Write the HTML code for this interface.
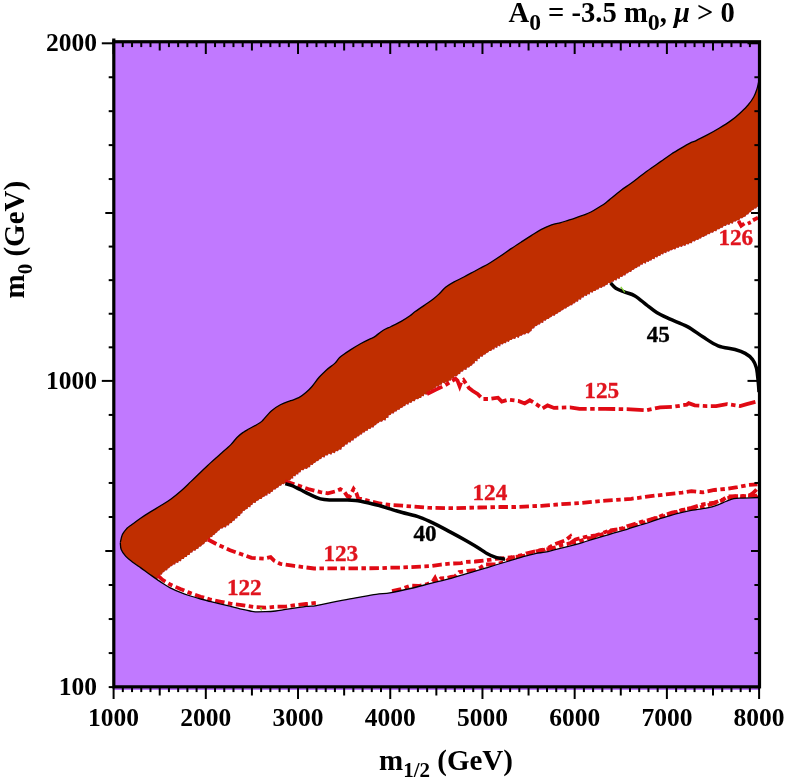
<!DOCTYPE html>
<html><head><meta charset="utf-8"><style>
html,body{margin:0;padding:0;background:#fff;}
svg{display:block;}
text{font-family:"Liberation Serif",serif;font-weight:bold;}
</style></head><body>
<svg style="will-change:transform" width="786" height="782" viewBox="0 0 786 782">
<rect x="0" y="0" width="786" height="782" fill="#fff"/>
<rect x="113.8" y="41.75" width="645.7" height="645.1" fill="#C179FF"/>
<path d="M759.3,207 L757.1,206.8 L756.2,208.4 L754.3,208.4 L753.5,210.1 L751.7,210.3 L751.0,212.1 L749.2,212.4 L748.4,214.2 L746.4,214.7 L745.5,216.5 L743.6,217.0 L742.2,218.3 L740.2,218.3 L739.2,220.4 L737.0,220.2 L735.7,221.6 L733.6,221.5 L732.7,223.8 L730.4,223.0 L729.2,224.9 L727.0,224.3 L725.8,226.1 L723.7,225.8 L722.6,227.8 L720.7,227.8 L719.3,229.2 L717.3,229.3 L716.3,231.3 L714.1,231.0 L713.0,232.8 L710.7,232.4 L709.6,234.2 L707.7,233.9 L706.6,235.5 L705.0,235.7 L703.8,237.0 L701.9,236.7 L701.0,238.6 L699.1,238.4 L698.2,240.1 L696.0,239.7 L694.8,241.4 L692.7,241.0 L691.7,243.2 L689.6,242.9 L688.4,244.6 L686.3,244.1 L685.2,246.1 L683.0,245.2 L681.8,246.9 L679.7,246.2 L678.4,247.9 L676.5,247.6 L675.2,249.4 L673.2,248.9 L671.9,250.2 L670.0,250.2 L669.0,251.8 L666.9,251.2 L666.1,253.2 L663.9,252.6 L663.1,254.5 L661.1,254.1 L660.2,256.1 L658.2,255.7 L657.2,257.5 L655.1,256.9 L654.5,259.3 L652.3,258.7 L651.4,260.5 L649.5,260.4 L648.5,262.0 L646.4,261.5 L645.7,263.7 L643.4,262.8 L642.5,264.7 L640.6,264.6 L639.8,266.5 L637.9,266.6 L636.8,268.1 L634.9,268.3 L633.8,269.7 L632.0,270.1 L631.1,271.9 L629.1,271.8 L628.0,273.3 L626.1,273.4 L625.3,275.4 L623.3,275.3 L622.2,276.9 L620.2,276.7 L619.5,278.9 L617.2,278.2 L616.5,280.5 L614.4,280.1 L613.4,281.8 L611.4,281.7 L610.6,283.7 L608.3,282.8 L607.5,284.7 L605.7,284.9 L604.6,286.4 L602.8,286.4 L601.6,288.1 L599.5,287.6 L598.4,289.4 L596.5,289.5 L595.4,291.0 L593.4,290.9 L592.5,292.7 L590.3,292.1 L589.7,294.4 L587.6,294.0 L586.8,295.9 L584.5,295.6 L583.6,297.4 L581.5,297.4 L581.0,299.8 L578.6,299.3 L578.0,301.7 L575.8,301.6 L574.9,303.3 L573.0,303.5 L572.1,305.2 L570.1,305.3 L568.9,306.6 L567.2,306.9 L566.1,308.4 L564.2,308.6 L563.1,310.1 L561.4,310.5 L560.2,311.9 L558.5,312.2 L557.4,313.7 L555.6,314.0 L554.7,315.8 L552.4,315.4 L551.5,317.1 L549.7,317.4 L548.7,319.0 L546.7,319.1 L545.7,320.7 L543.6,320.5 L543.1,323.0 L540.8,322.5 L539.9,324.4 L538.0,324.5 L536.8,325.9 L534.9,326.2 L534.2,328.2 L532.0,328.7 L531.5,330.9 L529.9,331.8 L528.7,333.6 L526.4,332.9 L525.1,334.5 L523.0,334.3 L521.7,335.8 L519.7,335.7 L518.6,337.9 L516.2,336.8 L515.1,339.0 L512.9,338.6 L511.6,340.1 L509.8,340.1 L508.8,341.9 L506.7,341.3 L505.9,343.3 L503.8,342.9 L502.7,344.4 L500.7,344.1 L500.1,346.4 L497.8,345.6 L497.1,347.9 L494.9,347.3 L494.2,349.5 L492.2,349.3 L491.2,350.9 L489.2,351.0 L488.1,352.5 L486.4,353.1 L485.3,354.6 L483.4,354.8 L482.6,356.8 L480.1,356.4 L479.8,358.7 L477.5,358.7 L477.5,361.3 L475.0,361.0 L474.7,363.2 L472.8,363.7 L472.0,365.4 L470.3,366.0 L469.1,367.6 L467.0,367.6 L466.3,369.9 L463.8,369.4 L463.0,371.6 L460.7,371.7 L460.1,374.1 L458.0,374.3 L457.0,376.3 L454.5,376.1 L454.0,378.6 L451.6,378.5 L450.7,380.8 L448.9,380.6 L447.8,382.3 L445.8,381.7 L444.7,383.5 L442.4,382.5 L441.6,384.7 L439.6,384.7 L438.8,386.9 L436.4,386.3 L435.5,388.2 L433.6,388.7 L432.4,390.2 L430.2,390.2 L429.7,392.7 L427.5,392.7 L426.6,394.7 L424.3,394.0 L423.8,396.3 L421.8,396.1 L421.1,397.9 L419.2,398.0 L418.1,399.3 L415.8,399.0 L414.7,401.3 L412.4,400.9 L411.3,403.0 L409.1,402.6 L408.3,404.7 L406.0,404.1 L405.2,406.0 L403.3,406.2 L402.3,407.8 L400.4,408.0 L399.5,409.8 L397.4,409.7 L396.5,411.4 L394.6,411.6 L393.7,413.5 L391.5,413.2 L390.7,414.9 L388.6,415.3 L388.4,417.7 L386.1,417.9 L385.6,420.4 L383.2,419.9 L382.0,421.8 L379.7,421.5 L378.7,423.1 L376.9,423.4 L376.0,425.1 L374.3,425.6 L373.5,427.4 L371.4,427.3 L370.4,429.0 L368.3,428.7 L367.6,430.8 L365.5,430.7 L364.6,432.5 L362.5,432.4 L361.9,434.5 L359.9,434.6 L359.0,436.3 L357.1,436.5 L356.2,438.2 L354.1,438.2 L353.5,440.4 L351.3,440.4 L350.6,442.6 L348.1,442.2 L347.4,444.4 L345.2,444.4 L344.4,446.4 L342.0,447.1 L341.2,449.8 L339.0,449.4 L337.9,451.3 L335.7,451.0 L334.8,453.2 L332.4,452.5 L331.2,454.7 L328.8,453.6 L327.5,455.5 L325.3,455.3 L324.6,457.5 L322.1,456.9 L321.2,458.9 L319.3,459.3 L318.2,460.9 L316.2,461.2 L315.3,462.7 L313.5,463.2 L312.7,465.0 L310.4,464.8 L310.1,467.2 L308.1,467.2 L306.9,469.0 L304.6,468.5 L303.4,470.2 L301.2,470.0 L300.6,472.3 L298.5,472.4 L298.2,474.4 L296.0,474.3 L295.5,476.2 L293.2,476.1 L293.2,478.5 L291.2,478.6 L290.1,480.4 L288.0,480.4 L287.0,482.4 L285.0,482.7 L284.0,484.2 L282.0,484.0 L281.1,485.7 L279.2,485.7 L278.4,487.5 L276.5,487.9 L275.5,489.5 L273.4,489.6 L272.7,491.7 L270.8,492.0 L270.0,493.9 L267.7,493.2 L267.3,495.6 L265.3,495.4 L264.3,496.8 L262.6,497.1 L261.6,499.0 L259.4,499.0 L258.3,500.6 L256.3,500.9 L255.5,503.1 L253.0,502.7 L252.5,504.7 L250.7,505.2 L250.3,507.2 L248.0,507.0 L247.6,509.1 L245.7,509.3 L244.7,510.8 L242.8,511.1 L242.3,513.2 L240.5,513.8 L240.0,515.9 L237.6,515.9 L237.3,518.2 L235.2,518.6 L234.7,520.6 L232.5,521.1 L231.9,523.1 L229.6,523.3 L228.8,525.4 L226.7,525.3 L225.9,527.5 L223.7,527.1 L222.5,528.6 L220.5,528.6 L219.5,530.3 L217.8,530.9 L217.0,532.5 L215.4,533.2 L214.6,534.7 L212.8,535.3 L212.2,537.0 L210.1,537.3 L209.7,539.3 L207.8,539.6 L207.2,541.5 L205.2,542.1 L204.1,543.9 L202.2,544.7 L201.0,546.5 L199.0,546.7 L198.3,548.8 L196.3,549.1 L195.4,550.8 L193.1,550.6 L192.3,552.6 L190.2,552.7 L189.6,554.9 L187.4,554.9 L186.8,557.1 L184.6,557.0 L183.8,559.0 L181.5,558.9 L181.0,561.3 L178.8,561.0 L178.1,563.0 L175.8,562.5 L175.1,564.6 L173.0,564.4 L172.1,566.1 L170.2,566.4 L169.3,567.9 L167.7,568.4 L167.1,570.3 L165.0,570.4 L164.2,572.0 L162.6,572.5 L162.0,574.4 L160.2,574.8 L156.9,579.4  C158.1,580.2 161.6,582.6 163.8,584.0 C166.0,585.4 167.4,586.4 170.2,587.8 C173.0,589.2 177.0,591.0 180.4,592.4 C183.8,593.8 187.1,594.9 190.5,596.0 C193.9,597.1 197.3,598.1 200.7,599.0 C204.1,599.9 207.5,600.8 210.9,601.6 C214.3,602.5 217.7,603.3 221.1,604.1 C224.5,604.9 228.0,605.8 231.2,606.6 C234.3,607.4 236.8,608.2 240.0,608.9 C243.2,609.6 247.6,610.5 250.2,611.0 C252.8,611.5 252.8,611.7 255.3,611.8 C257.8,611.9 262.0,611.8 265.4,611.7 C268.8,611.6 272.2,611.4 275.6,611.0 C279.0,610.6 282.4,609.9 285.8,609.4 C289.2,608.9 292.6,608.4 296.0,607.9 C299.4,607.4 303.0,606.8 306.2,606.4 C309.4,606.0 312.7,606.1 315.0,605.8 C317.3,605.5 316.6,605.5 320.0,604.8 C323.4,604.1 329.4,602.9 335.4,601.7 C341.3,600.6 348.9,599.1 355.7,597.9 C362.5,596.7 370.4,595.1 376.1,594.3 C381.8,593.4 384.3,593.8 390.0,592.8 C395.7,591.8 403.6,590.1 410.4,588.5 C417.2,586.9 423.9,585.1 430.7,583.4 C437.5,581.7 445.4,579.8 451.1,578.3 C456.8,576.8 461.0,575.4 465.0,574.2 C469.0,573.0 471.8,572.1 475.2,571.1 C478.6,570.1 482.0,569.1 485.4,568.1 C488.8,567.1 492.1,566.0 495.5,565.0 C498.9,564.0 502.3,563.0 505.7,562.0 C509.1,561.0 512.5,559.9 515.9,558.9 C519.3,557.9 522.7,556.8 526.1,555.9 C529.5,555.0 533.1,553.9 536.2,553.3 C539.4,552.7 541.8,552.8 545.0,552.2 C548.2,551.6 551.8,550.5 555.2,549.6 C558.6,548.8 562.0,548.0 565.4,547.1 C568.8,546.2 572.1,545.4 575.5,544.5 C578.9,543.6 582.3,542.5 585.7,541.5 C589.1,540.5 592.5,539.4 595.9,538.4 C599.3,537.4 602.7,536.4 606.1,535.4 C609.5,534.4 613.1,533.2 616.2,532.3 C619.4,531.4 622.7,530.7 625.0,530.0 C627.3,529.3 627.6,528.9 630.2,528.1 C632.8,527.3 637.0,526.0 640.4,525.0 C643.8,524.0 647.1,523.1 650.5,522.0 C653.9,520.9 657.3,519.5 660.7,518.4 C664.1,517.3 667.5,516.4 670.9,515.4 C674.3,514.4 677.7,513.4 681.1,512.6 C684.5,511.8 688.1,511.0 691.2,510.4 C694.4,509.8 696.1,509.9 700.0,509.2 C703.9,508.5 710.1,507.4 714.4,506.1 C718.7,504.8 722.6,502.8 725.8,501.5 C729.0,500.2 730.9,499.2 733.8,498.6 C736.7,498.0 738.8,498.3 743.0,498.1 C747.2,497.9 756.6,497.6 759.3,497.5 L759.3,497.5 Z" fill="#fff"/>
<path d="M120.3,542.6 C120.7,541.2 121.3,536.9 122.4,534.5 C123.5,532.1 125.6,529.8 127.0,528.2 C128.4,526.7 128.8,526.8 131.0,525.2 C133.2,523.6 137.0,520.7 140.2,518.5 C143.4,516.3 147.0,514.0 150.4,511.9 C153.8,509.8 157.1,507.9 160.5,505.8 C163.9,503.7 167.3,501.7 170.7,499.2 C174.1,496.7 177.5,494.0 180.9,491.0 C184.3,488.0 187.8,484.5 191.1,481.4 C194.4,478.3 197.4,475.3 200.6,472.2 C203.8,469.1 207.2,466.0 210.5,462.9 C213.8,459.8 217.3,456.9 220.7,453.8 C224.1,450.8 228.2,447.3 230.9,444.6 C233.6,441.9 235.0,439.5 237.0,437.5 C239.0,435.5 241.1,433.8 243.1,432.4 C245.1,430.9 246.4,430.4 249.2,428.8 C252.0,427.2 257.7,424.2 260.0,422.7 C262.3,421.2 261.2,422.0 263.1,420.0 C265.0,418.0 268.4,413.4 271.3,410.9 C274.2,408.4 277.2,406.5 280.4,404.8 C283.6,403.1 287.5,401.9 290.6,400.7 C293.7,399.5 296.2,399.0 298.8,397.7 C301.4,396.4 303.7,394.5 305.9,392.6 C308.1,390.7 309.8,389.1 312.0,386.5 C314.2,383.9 316.7,380.0 319.1,377.3 C321.5,374.6 323.6,372.6 326.2,370.2 C328.8,367.8 332.7,365.3 335.0,363.1 C337.3,360.9 337.6,359.2 340.2,357.0 C342.8,354.8 347.0,352.1 350.4,349.9 C353.8,347.7 357.1,345.7 360.5,343.8 C363.9,341.9 368.3,339.9 370.7,338.7 C373.1,337.5 372.8,338.0 374.8,336.6 C376.8,335.2 380.2,332.2 382.9,330.5 C385.6,328.8 388.1,328.0 391.1,326.5 C394.2,325.0 398.1,323.2 401.2,321.4 C404.3,319.6 407.7,317.4 410.0,315.8 C412.3,314.2 412.6,313.5 415.2,311.6 C417.8,309.7 422.4,306.6 425.5,304.5 C428.6,302.4 431.2,300.7 433.6,298.8 C436.0,296.9 437.8,295.1 439.8,293.2 C441.9,291.2 443.5,289.0 445.9,287.1 C448.3,285.2 451.0,283.6 454.1,281.9 C457.2,280.2 460.9,278.6 464.3,276.8 C467.7,275.0 472.0,272.6 474.6,271.2 C477.2,269.8 477.4,269.7 480.0,268.3 C482.6,266.9 486.8,264.8 490.2,262.7 C493.6,260.6 497.1,258.3 500.5,256.0 C503.9,253.7 507.3,251.2 510.7,248.9 C514.1,246.6 517.5,244.4 520.9,242.2 C524.3,240.0 527.8,237.7 531.2,235.6 C534.6,233.5 538.0,231.2 541.4,229.4 C544.8,227.6 548.5,225.9 551.6,224.8 C554.7,223.7 557.6,223.4 560.0,222.8 C562.4,222.2 563.6,221.8 566.0,221.0 C568.4,220.2 571.5,219.3 574.4,218.3 C577.3,217.3 580.5,216.2 583.3,215.2 C586.0,214.1 588.4,213.3 590.9,212.0 C593.4,210.7 596.0,209.1 598.5,207.5 C601.0,205.9 602.6,205.2 606.2,202.4 C609.8,199.6 616.2,194.0 620.2,190.9 C624.2,187.8 627.0,186.3 630.4,183.8 C633.8,181.3 637.1,178.7 640.5,176.1 C643.9,173.5 647.3,170.9 650.7,168.5 C654.1,166.1 657.5,163.8 660.9,161.4 C664.3,159.0 667.7,156.4 671.1,154.2 C674.5,152.0 678.1,149.9 681.2,148.1 C684.4,146.2 687.6,144.3 690.0,143.1 C692.4,141.9 692.9,142.1 695.7,140.8 C698.5,139.5 702.8,137.3 706.8,135.2 C710.8,133.1 715.5,130.4 719.5,128.0 C723.5,125.6 727.1,123.4 730.6,120.9 C734.1,118.4 737.3,115.6 740.2,112.9 C743.1,110.2 745.9,107.7 748.1,105.0 C750.4,102.3 752.2,99.7 753.7,97.0 C755.2,94.3 756.1,91.5 756.9,89.1 C757.7,86.7 758.1,84.4 758.5,82.7 C758.9,81.0 759.2,79.6 759.3,79.0 L759.3,207 L757.1,206.8 L756.2,208.4 L754.3,208.4 L753.5,210.1 L751.7,210.3 L751.0,212.1 L749.2,212.4 L748.4,214.2 L746.4,214.7 L745.5,216.5 L743.6,217.0 L742.2,218.3 L740.2,218.3 L739.2,220.4 L737.0,220.2 L735.7,221.6 L733.6,221.5 L732.7,223.8 L730.4,223.0 L729.2,224.9 L727.0,224.3 L725.8,226.1 L723.7,225.8 L722.6,227.8 L720.7,227.8 L719.3,229.2 L717.3,229.3 L716.3,231.3 L714.1,231.0 L713.0,232.8 L710.7,232.4 L709.6,234.2 L707.7,233.9 L706.6,235.5 L705.0,235.7 L703.8,237.0 L701.9,236.7 L701.0,238.6 L699.1,238.4 L698.2,240.1 L696.0,239.7 L694.8,241.4 L692.7,241.0 L691.7,243.2 L689.6,242.9 L688.4,244.6 L686.3,244.1 L685.2,246.1 L683.0,245.2 L681.8,246.9 L679.7,246.2 L678.4,247.9 L676.5,247.6 L675.2,249.4 L673.2,248.9 L671.9,250.2 L670.0,250.2 L669.0,251.8 L666.9,251.2 L666.1,253.2 L663.9,252.6 L663.1,254.5 L661.1,254.1 L660.2,256.1 L658.2,255.7 L657.2,257.5 L655.1,256.9 L654.5,259.3 L652.3,258.7 L651.4,260.5 L649.5,260.4 L648.5,262.0 L646.4,261.5 L645.7,263.7 L643.4,262.8 L642.5,264.7 L640.6,264.6 L639.8,266.5 L637.9,266.6 L636.8,268.1 L634.9,268.3 L633.8,269.7 L632.0,270.1 L631.1,271.9 L629.1,271.8 L628.0,273.3 L626.1,273.4 L625.3,275.4 L623.3,275.3 L622.2,276.9 L620.2,276.7 L619.5,278.9 L617.2,278.2 L616.5,280.5 L614.4,280.1 L613.4,281.8 L611.4,281.7 L610.6,283.7 L608.3,282.8 L607.5,284.7 L605.7,284.9 L604.6,286.4 L602.8,286.4 L601.6,288.1 L599.5,287.6 L598.4,289.4 L596.5,289.5 L595.4,291.0 L593.4,290.9 L592.5,292.7 L590.3,292.1 L589.7,294.4 L587.6,294.0 L586.8,295.9 L584.5,295.6 L583.6,297.4 L581.5,297.4 L581.0,299.8 L578.6,299.3 L578.0,301.7 L575.8,301.6 L574.9,303.3 L573.0,303.5 L572.1,305.2 L570.1,305.3 L568.9,306.6 L567.2,306.9 L566.1,308.4 L564.2,308.6 L563.1,310.1 L561.4,310.5 L560.2,311.9 L558.5,312.2 L557.4,313.7 L555.6,314.0 L554.7,315.8 L552.4,315.4 L551.5,317.1 L549.7,317.4 L548.7,319.0 L546.7,319.1 L545.7,320.7 L543.6,320.5 L543.1,323.0 L540.8,322.5 L539.9,324.4 L538.0,324.5 L536.8,325.9 L534.9,326.2 L534.2,328.2 L532.0,328.7 L531.5,330.9 L529.9,331.8 L528.7,333.6 L526.4,332.9 L525.1,334.5 L523.0,334.3 L521.7,335.8 L519.7,335.7 L518.6,337.9 L516.2,336.8 L515.1,339.0 L512.9,338.6 L511.6,340.1 L509.8,340.1 L508.8,341.9 L506.7,341.3 L505.9,343.3 L503.8,342.9 L502.7,344.4 L500.7,344.1 L500.1,346.4 L497.8,345.6 L497.1,347.9 L494.9,347.3 L494.2,349.5 L492.2,349.3 L491.2,350.9 L489.2,351.0 L488.1,352.5 L486.4,353.1 L485.3,354.6 L483.4,354.8 L482.6,356.8 L480.1,356.4 L479.8,358.7 L477.5,358.7 L477.5,361.3 L475.0,361.0 L474.7,363.2 L472.8,363.7 L472.0,365.4 L470.3,366.0 L469.1,367.6 L467.0,367.6 L466.3,369.9 L463.8,369.4 L463.0,371.6 L460.7,371.7 L460.1,374.1 L458.0,374.3 L457.0,376.3 L454.5,376.1 L454.0,378.6 L451.6,378.5 L450.7,380.8 L448.9,380.6 L447.8,382.3 L445.8,381.7 L444.7,383.5 L442.4,382.5 L441.6,384.7 L439.6,384.7 L438.8,386.9 L436.4,386.3 L435.5,388.2 L433.6,388.7 L432.4,390.2 L430.2,390.2 L429.7,392.7 L427.5,392.7 L426.6,394.7 L424.3,394.0 L423.8,396.3 L421.8,396.1 L421.1,397.9 L419.2,398.0 L418.1,399.3 L415.8,399.0 L414.7,401.3 L412.4,400.9 L411.3,403.0 L409.1,402.6 L408.3,404.7 L406.0,404.1 L405.2,406.0 L403.3,406.2 L402.3,407.8 L400.4,408.0 L399.5,409.8 L397.4,409.7 L396.5,411.4 L394.6,411.6 L393.7,413.5 L391.5,413.2 L390.7,414.9 L388.6,415.3 L388.4,417.7 L386.1,417.9 L385.6,420.4 L383.2,419.9 L382.0,421.8 L379.7,421.5 L378.7,423.1 L376.9,423.4 L376.0,425.1 L374.3,425.6 L373.5,427.4 L371.4,427.3 L370.4,429.0 L368.3,428.7 L367.6,430.8 L365.5,430.7 L364.6,432.5 L362.5,432.4 L361.9,434.5 L359.9,434.6 L359.0,436.3 L357.1,436.5 L356.2,438.2 L354.1,438.2 L353.5,440.4 L351.3,440.4 L350.6,442.6 L348.1,442.2 L347.4,444.4 L345.2,444.4 L344.4,446.4 L342.0,447.1 L341.2,449.8 L339.0,449.4 L337.9,451.3 L335.7,451.0 L334.8,453.2 L332.4,452.5 L331.2,454.7 L328.8,453.6 L327.5,455.5 L325.3,455.3 L324.6,457.5 L322.1,456.9 L321.2,458.9 L319.3,459.3 L318.2,460.9 L316.2,461.2 L315.3,462.7 L313.5,463.2 L312.7,465.0 L310.4,464.8 L310.1,467.2 L308.1,467.2 L306.9,469.0 L304.6,468.5 L303.4,470.2 L301.2,470.0 L300.6,472.3 L298.5,472.4 L298.2,474.4 L296.0,474.3 L295.5,476.2 L293.2,476.1 L293.2,478.5 L291.2,478.6 L290.1,480.4 L288.0,480.4 L287.0,482.4 L285.0,482.7 L284.0,484.2 L282.0,484.0 L281.1,485.7 L279.2,485.7 L278.4,487.5 L276.5,487.9 L275.5,489.5 L273.4,489.6 L272.7,491.7 L270.8,492.0 L270.0,493.9 L267.7,493.2 L267.3,495.6 L265.3,495.4 L264.3,496.8 L262.6,497.1 L261.6,499.0 L259.4,499.0 L258.3,500.6 L256.3,500.9 L255.5,503.1 L253.0,502.7 L252.5,504.7 L250.7,505.2 L250.3,507.2 L248.0,507.0 L247.6,509.1 L245.7,509.3 L244.7,510.8 L242.8,511.1 L242.3,513.2 L240.5,513.8 L240.0,515.9 L237.6,515.9 L237.3,518.2 L235.2,518.6 L234.7,520.6 L232.5,521.1 L231.9,523.1 L229.6,523.3 L228.8,525.4 L226.7,525.3 L225.9,527.5 L223.7,527.1 L222.5,528.6 L220.5,528.6 L219.5,530.3 L217.8,530.9 L217.0,532.5 L215.4,533.2 L214.6,534.7 L212.8,535.3 L212.2,537.0 L210.1,537.3 L209.7,539.3 L207.8,539.6 L207.2,541.5 L205.2,542.1 L204.1,543.9 L202.2,544.7 L201.0,546.5 L199.0,546.7 L198.3,548.8 L196.3,549.1 L195.4,550.8 L193.1,550.6 L192.3,552.6 L190.2,552.7 L189.6,554.9 L187.4,554.9 L186.8,557.1 L184.6,557.0 L183.8,559.0 L181.5,558.9 L181.0,561.3 L178.8,561.0 L178.1,563.0 L175.8,562.5 L175.1,564.6 L173.0,564.4 L172.1,566.1 L170.2,566.4 L169.3,567.9 L167.7,568.4 L167.1,570.3 L165.0,570.4 L164.2,572.0 L162.6,572.5 L162.0,574.4 L160.2,574.8 L156.9,579.4 L148.8,573.7 L140.8,567.9 L132.7,562.2 L125.8,556.4 L121.2,549.5 L120.3,542.6 Z" fill="#C02E00"/>
<path d="M120.3,542.6 C120.7,541.2 121.3,536.9 122.4,534.5 C123.5,532.1 125.6,529.8 127.0,528.2 C128.4,526.7 128.8,526.8 131.0,525.2 C133.2,523.6 137.0,520.7 140.2,518.5 C143.4,516.3 147.0,514.0 150.4,511.9 C153.8,509.8 157.1,507.9 160.5,505.8 C163.9,503.7 167.3,501.7 170.7,499.2 C174.1,496.7 177.5,494.0 180.9,491.0 C184.3,488.0 187.8,484.5 191.1,481.4 C194.4,478.3 197.4,475.3 200.6,472.2 C203.8,469.1 207.2,466.0 210.5,462.9 C213.8,459.8 217.3,456.9 220.7,453.8 C224.1,450.8 228.2,447.3 230.9,444.6 C233.6,441.9 235.0,439.5 237.0,437.5 C239.0,435.5 241.1,433.8 243.1,432.4 C245.1,430.9 246.4,430.4 249.2,428.8 C252.0,427.2 257.7,424.2 260.0,422.7 C262.3,421.2 261.2,422.0 263.1,420.0 C265.0,418.0 268.4,413.4 271.3,410.9 C274.2,408.4 277.2,406.5 280.4,404.8 C283.6,403.1 287.5,401.9 290.6,400.7 C293.7,399.5 296.2,399.0 298.8,397.7 C301.4,396.4 303.7,394.5 305.9,392.6 C308.1,390.7 309.8,389.1 312.0,386.5 C314.2,383.9 316.7,380.0 319.1,377.3 C321.5,374.6 323.6,372.6 326.2,370.2 C328.8,367.8 332.7,365.3 335.0,363.1 C337.3,360.9 337.6,359.2 340.2,357.0 C342.8,354.8 347.0,352.1 350.4,349.9 C353.8,347.7 357.1,345.7 360.5,343.8 C363.9,341.9 368.3,339.9 370.7,338.7 C373.1,337.5 372.8,338.0 374.8,336.6 C376.8,335.2 380.2,332.2 382.9,330.5 C385.6,328.8 388.1,328.0 391.1,326.5 C394.2,325.0 398.1,323.2 401.2,321.4 C404.3,319.6 407.7,317.4 410.0,315.8 C412.3,314.2 412.6,313.5 415.2,311.6 C417.8,309.7 422.4,306.6 425.5,304.5 C428.6,302.4 431.2,300.7 433.6,298.8 C436.0,296.9 437.8,295.1 439.8,293.2 C441.9,291.2 443.5,289.0 445.9,287.1 C448.3,285.2 451.0,283.6 454.1,281.9 C457.2,280.2 460.9,278.6 464.3,276.8 C467.7,275.0 472.0,272.6 474.6,271.2 C477.2,269.8 477.4,269.7 480.0,268.3 C482.6,266.9 486.8,264.8 490.2,262.7 C493.6,260.6 497.1,258.3 500.5,256.0 C503.9,253.7 507.3,251.2 510.7,248.9 C514.1,246.6 517.5,244.4 520.9,242.2 C524.3,240.0 527.8,237.7 531.2,235.6 C534.6,233.5 538.0,231.2 541.4,229.4 C544.8,227.6 548.5,225.9 551.6,224.8 C554.7,223.7 557.6,223.4 560.0,222.8 C562.4,222.2 563.6,221.8 566.0,221.0 C568.4,220.2 571.5,219.3 574.4,218.3 C577.3,217.3 580.5,216.2 583.3,215.2 C586.0,214.1 588.4,213.3 590.9,212.0 C593.4,210.7 596.0,209.1 598.5,207.5 C601.0,205.9 602.6,205.2 606.2,202.4 C609.8,199.6 616.2,194.0 620.2,190.9 C624.2,187.8 627.0,186.3 630.4,183.8 C633.8,181.3 637.1,178.7 640.5,176.1 C643.9,173.5 647.3,170.9 650.7,168.5 C654.1,166.1 657.5,163.8 660.9,161.4 C664.3,159.0 667.7,156.4 671.1,154.2 C674.5,152.0 678.1,149.9 681.2,148.1 C684.4,146.2 687.6,144.3 690.0,143.1 C692.4,141.9 692.9,142.1 695.7,140.8 C698.5,139.5 702.8,137.3 706.8,135.2 C710.8,133.1 715.5,130.4 719.5,128.0 C723.5,125.6 727.1,123.4 730.6,120.9 C734.1,118.4 737.3,115.6 740.2,112.9 C743.1,110.2 745.9,107.7 748.1,105.0 C750.4,102.3 752.2,99.7 753.7,97.0 C755.2,94.3 756.1,91.5 756.9,89.1 C757.7,86.7 758.1,84.4 758.5,82.7 C758.9,81.0 759.2,79.6 759.3,79.0" fill="none" stroke="#000" stroke-width="1.3"/>
<g fill="none" stroke="#E00A14" stroke-width="3.8" stroke-dasharray="9.5 3.5 4.5 3.5">
<path d="M158.0,575.7 L162.2,579.6 L170.2,584.5 L180.4,589.0 L190.5,593.1 L200.7,596.7 L210.9,599.7 L221.1,601.8 L231.2,603.8 L240.0,604.8 L255.3,607.1 L265.4,607.7 L275.6,606.7 L285.8,606.6 L296.0,605.1 L306.2,604.0 L318.0,602.7"/>
<path d="M392.0,591.0 L401.0,589.0 L410.4,585.7 L418.5,586.0 L426.6,584.4 L432.7,581.5 L435.0,578.0 L436.8,581.9 L440.9,578.3 L447.0,578.0 L451.0,576.8 L455.0,576.3 L459.2,572.0 L463.3,571.5 L467.4,570.8 L475.2,570.1 L480.3,567.6 L485.4,564.5 L495.5,564.5 L505.7,561.5 L508.8,559.2 L512.0,557.6 L517.0,556.2 L522.0,555.2 L527.0,553.2 L532.0,552.0 L537.0,550.9 L542.0,549.8 L547.0,549.3 L552.0,548.2 L557.0,547.1 L562.0,545.0 L567.0,544.1 L572.0,542.5 L577.0,542.0 L582.0,540.4 L587.0,538.2 L592.0,537.8 L597.0,536.2 L602.0,534.4 L607.0,532.9 L612.0,530.8 L617.0,529.1 L622.0,528.4 L627.0,526.3 L632.0,524.8 L637.0,523.3 L642.0,521.6 L647.0,520.6 L652.0,519.0 L657.0,517.7 L662.0,515.6 L667.0,514.3 L672.0,512.7 L677.0,511.5 L682.0,510.0 L687.0,508.6 L692.0,508.5 L697.0,507.8 L702.0,506.8 L707.0,505.5 L712.0,504.0 L717.0,502.3 L722.0,500.4 L727.0,498.1 L732.0,497.2 L737.0,495.9 L742.0,496.2 L747.0,495.4 L752.0,495.9 L757.0,495.6 L757.5,495.2"/>
<path d="M208.0,539.5 L217.9,544.8 L230.1,550.2 L240.8,554.0 L251.5,557.8 L263.7,558.6 L270.6,557.1 L274.4,560.9 L280.5,563.9 L294.2,565.9 L314.1,568.5 L351.2,568.3 L380.0,568.2 L390.0,567.6 L400.2,567.6 L410.4,567.1 L420.5,566.6 L430.7,566.1 L440.9,564.6 L451.1,563.6 L461.2,563.1 L465.0,562.0 L475.2,561.5 L485.4,560.4 L495.5,558.9 L505.7,557.9 L515.9,556.9 L526.1,555.4 L536.2,551.3 L545.0,549.6 L555.2,544.0 L565.4,540.4 L570.4,536.4 L572.5,541.5 L575.5,539.4 L585.7,536.9 L595.9,535.4 L606.1,531.8 L608.1,534.3 L611.2,530.3 L625.0,528.5 L640.0,524.0 L654.6,518.5 L663.8,516.4 L678.0,511.5 L682.0,510.3 L691.5,507.8 L702.9,504.4 L714.4,502.6 L723.5,499.2 L728.1,496.3 L737.3,496.1 L748.7,496.1 L753.3,492.9 L757.5,488.5"/>
<path d="M285.3,481.4 L292.9,483.7 L308.2,489.0 L320.4,492.1 L327.8,493.3 L334.9,491.5 L340.3,489.2 L343.8,491.0 L347.4,496.4 L349.2,497.3 L351.0,494.1 L353.6,488.9 L356.3,492.8 L358.1,498.2 L363.4,499.5 L372.3,501.7 L380.0,503.5 L390.0,505.0 L402.3,505.7 L427.9,507.7 L453.5,508.2 L479.0,507.5 L500.0,507.0 L515.6,507.0 L541.2,505.8 L566.7,503.8 L580.0,503.0 L605.6,500.6 L631.2,498.8 L656.7,495.4 L682.3,492.6 L691.5,491.2 L702.9,492.3 L714.4,490.0 L725.8,488.9 L737.3,487.2 L748.7,484.9 L757.5,484.3"/>
<path d="M427.0,394.0 L436.0,389.6 L444.4,385.6 L450.5,382.0 L455.5,378.6 L457.5,380.5 L459.7,386.4 L461.5,381.5 L463.5,379.9 L468.9,387.9 L472.5,390.8 L477.6,393.9 L482.7,399.0 L489.1,399.0 L498.0,397.7 L501.8,401.5 L508.2,399.6 L518.3,400.9 L524.7,403.4 L529.8,400.3 L536.2,404.1 L542.5,408.5 L547.6,405.4 L554.0,407.9 L570.0,407.3 L579.5,408.8 L605.1,408.8 L630.7,409.3 L646.5,410.2 L660.0,407.4 L673.4,406.8 L686.7,404.7 L688.7,403.2 L694.7,405.4 L706.8,406.1 L716.1,406.1 L726.8,404.1 L740.1,406.1 L746.8,404.1 L757.5,401.4" stroke-dasharray="17 3.5 4.5 3.5"/>
<path d="M738.5,220.9 L741.2,225.8 L745.5,222.8"/>
</g>
<g fill="none" stroke="#E00A14" stroke-width="3.8">
<path d="M747.8,223.6 L750.8,222.2"/>
<path d="M753,220.2 L758,217.6"/>
</g>

<g fill="none" stroke="#000" stroke-width="3.5">
<path d="M285.3,483.7 C286.6,484.1 290.4,485.0 292.9,486.0 C295.4,487.0 297.7,488.4 300.5,489.8 C303.3,491.2 306.4,492.9 309.7,494.4 C313.0,495.9 316.8,498.0 320.4,498.9 C324.0,499.8 326.8,499.8 331.1,500.0 C335.4,500.2 342.2,499.9 346.3,500.0 C350.4,500.1 351.9,500.1 355.5,500.5 C359.1,500.9 363.6,501.8 367.7,502.7 C371.8,503.6 376.2,504.8 379.9,505.8 C383.6,506.8 386.3,507.8 390.0,508.9 C393.7,510.0 397.3,511.1 402.3,512.5 C407.3,513.9 414.5,515.4 420.0,517.3 C425.5,519.2 430.2,521.6 435.3,524.1 C440.4,526.6 445.4,529.4 450.5,532.1 C455.6,534.8 460.9,537.7 465.8,540.5 C470.7,543.3 476.5,546.7 480.0,548.9 C483.5,551.1 484.5,552.2 486.9,553.5 C489.3,554.8 492.2,556.0 494.4,556.8 C496.6,557.6 498.2,557.9 500.0,558.3 C501.8,558.7 504.2,559.1 505.0,559.2"/>
<path d="M610.7,283.1 C611.6,284.0 613.4,286.7 615.8,288.2 C618.1,289.7 621.6,290.8 624.8,292.1 C628.0,293.4 631.4,293.8 635.0,295.9 C638.6,298.0 642.9,302.1 646.5,304.9 C650.1,307.7 652.9,310.2 656.7,312.5 C660.5,314.8 664.4,316.5 669.5,318.9 C674.6,321.2 681.9,323.6 687.4,326.6 C692.9,329.6 697.7,333.6 702.8,336.8 C707.9,340.0 712.7,343.7 718.1,345.8 C723.5,347.9 730.5,348.2 735.0,349.5 C739.5,350.8 742.3,351.8 745.2,353.4 C748.1,355.0 750.5,356.9 752.4,359.3 C754.2,361.7 755.4,364.7 756.3,367.5 C757.2,370.3 757.2,372.9 757.6,376.0 C758.0,379.1 758.4,383.3 758.6,386.0 C758.8,388.7 758.9,391.0 759.0,392.0"/>
</g>
<g fill="none" stroke="#7CD02A" stroke-width="1.2">
<path d="M620.8,286.8 L624.8,292.4"/>
<path d="M260,607.5 L261.5,610.5 M262,607.5 L260.5,610"/>
</g>
<path d="M120.3,542.6 C120.5,543.8 120.3,547.2 121.2,549.5 C122.1,551.8 123.9,554.3 125.8,556.4 C127.7,558.5 130.2,560.3 132.7,562.2 C135.2,564.1 138.1,566.0 140.8,567.9 C143.5,569.8 146.1,571.8 148.8,573.7 C151.5,575.6 154.4,577.7 156.9,579.4 C159.4,581.1 161.6,582.6 163.8,584.0 C166.0,585.4 167.4,586.4 170.2,587.8 C173.0,589.2 177.0,591.0 180.4,592.4 C183.8,593.8 187.1,594.9 190.5,596.0 C193.9,597.1 197.3,598.1 200.7,599.0 C204.1,599.9 207.5,600.8 210.9,601.6 C214.3,602.5 217.7,603.3 221.1,604.1 C224.5,604.9 228.0,605.8 231.2,606.6 C234.3,607.4 236.8,608.2 240.0,608.9 C243.2,609.6 247.6,610.5 250.2,611.0 C252.8,611.5 252.8,611.7 255.3,611.8 C257.8,611.9 262.0,611.8 265.4,611.7 C268.8,611.6 272.2,611.4 275.6,611.0 C279.0,610.6 282.4,609.9 285.8,609.4 C289.2,608.9 292.6,608.4 296.0,607.9 C299.4,607.4 303.0,606.8 306.2,606.4 C309.4,606.0 312.7,606.1 315.0,605.8 C317.3,605.5 316.6,605.5 320.0,604.8 C323.4,604.1 329.4,602.9 335.4,601.7 C341.3,600.6 348.9,599.1 355.7,597.9 C362.5,596.7 370.4,595.1 376.1,594.3 C381.8,593.4 384.3,593.8 390.0,592.8 C395.7,591.8 403.6,590.1 410.4,588.5 C417.2,586.9 423.9,585.1 430.7,583.4 C437.5,581.7 445.4,579.8 451.1,578.3 C456.8,576.8 461.0,575.4 465.0,574.2 C469.0,573.0 471.8,572.1 475.2,571.1 C478.6,570.1 482.0,569.1 485.4,568.1 C488.8,567.1 492.1,566.0 495.5,565.0 C498.9,564.0 502.3,563.0 505.7,562.0 C509.1,561.0 512.5,559.9 515.9,558.9 C519.3,557.9 522.7,556.8 526.1,555.9 C529.5,555.0 533.1,553.9 536.2,553.3 C539.4,552.7 541.8,552.8 545.0,552.2 C548.2,551.6 551.8,550.5 555.2,549.6 C558.6,548.8 562.0,548.0 565.4,547.1 C568.8,546.2 572.1,545.4 575.5,544.5 C578.9,543.6 582.3,542.5 585.7,541.5 C589.1,540.5 592.5,539.4 595.9,538.4 C599.3,537.4 602.7,536.4 606.1,535.4 C609.5,534.4 613.1,533.2 616.2,532.3 C619.4,531.4 622.7,530.7 625.0,530.0 C627.3,529.3 627.6,528.9 630.2,528.1 C632.8,527.3 637.0,526.0 640.4,525.0 C643.8,524.0 647.1,523.1 650.5,522.0 C653.9,520.9 657.3,519.5 660.7,518.4 C664.1,517.3 667.5,516.4 670.9,515.4 C674.3,514.4 677.7,513.4 681.1,512.6 C684.5,511.8 688.1,511.0 691.2,510.4 C694.4,509.8 696.1,509.9 700.0,509.2 C703.9,508.5 710.1,507.4 714.4,506.1 C718.7,504.8 722.6,502.8 725.8,501.5 C729.0,500.2 730.9,499.2 733.8,498.6 C736.7,498.0 738.8,498.3 743.0,498.1 C747.2,497.9 756.6,497.6 759.3,497.5 L759.3,690 L113,690 L113,542.6 Z" fill="#C179FF"/>
<path d="M120.3,542.6 C120.5,543.8 120.3,547.2 121.2,549.5 C122.1,551.8 123.9,554.3 125.8,556.4 C127.7,558.5 130.2,560.3 132.7,562.2 C135.2,564.1 138.1,566.0 140.8,567.9 C143.5,569.8 146.1,571.8 148.8,573.7 C151.5,575.6 154.4,577.7 156.9,579.4 C159.4,581.1 161.6,582.6 163.8,584.0 C166.0,585.4 167.4,586.4 170.2,587.8 C173.0,589.2 177.0,591.0 180.4,592.4 C183.8,593.8 187.1,594.9 190.5,596.0 C193.9,597.1 197.3,598.1 200.7,599.0 C204.1,599.9 207.5,600.8 210.9,601.6 C214.3,602.5 217.7,603.3 221.1,604.1 C224.5,604.9 228.0,605.8 231.2,606.6 C234.3,607.4 236.8,608.2 240.0,608.9 C243.2,609.6 247.6,610.5 250.2,611.0 C252.8,611.5 252.8,611.7 255.3,611.8 C257.8,611.9 262.0,611.8 265.4,611.7 C268.8,611.6 272.2,611.4 275.6,611.0 C279.0,610.6 282.4,609.9 285.8,609.4 C289.2,608.9 292.6,608.4 296.0,607.9 C299.4,607.4 303.0,606.8 306.2,606.4 C309.4,606.0 312.7,606.1 315.0,605.8 C317.3,605.5 316.6,605.5 320.0,604.8 C323.4,604.1 329.4,602.9 335.4,601.7 C341.3,600.6 348.9,599.1 355.7,597.9 C362.5,596.7 370.4,595.1 376.1,594.3 C381.8,593.4 384.3,593.8 390.0,592.8 C395.7,591.8 403.6,590.1 410.4,588.5 C417.2,586.9 423.9,585.1 430.7,583.4 C437.5,581.7 445.4,579.8 451.1,578.3 C456.8,576.8 461.0,575.4 465.0,574.2 C469.0,573.0 471.8,572.1 475.2,571.1 C478.6,570.1 482.0,569.1 485.4,568.1 C488.8,567.1 492.1,566.0 495.5,565.0 C498.9,564.0 502.3,563.0 505.7,562.0 C509.1,561.0 512.5,559.9 515.9,558.9 C519.3,557.9 522.7,556.8 526.1,555.9 C529.5,555.0 533.1,553.9 536.2,553.3 C539.4,552.7 541.8,552.8 545.0,552.2 C548.2,551.6 551.8,550.5 555.2,549.6 C558.6,548.8 562.0,548.0 565.4,547.1 C568.8,546.2 572.1,545.4 575.5,544.5 C578.9,543.6 582.3,542.5 585.7,541.5 C589.1,540.5 592.5,539.4 595.9,538.4 C599.3,537.4 602.7,536.4 606.1,535.4 C609.5,534.4 613.1,533.2 616.2,532.3 C619.4,531.4 622.7,530.7 625.0,530.0 C627.3,529.3 627.6,528.9 630.2,528.1 C632.8,527.3 637.0,526.0 640.4,525.0 C643.8,524.0 647.1,523.1 650.5,522.0 C653.9,520.9 657.3,519.5 660.7,518.4 C664.1,517.3 667.5,516.4 670.9,515.4 C674.3,514.4 677.7,513.4 681.1,512.6 C684.5,511.8 688.1,511.0 691.2,510.4 C694.4,509.8 696.1,509.9 700.0,509.2 C703.9,508.5 710.1,507.4 714.4,506.1 C718.7,504.8 722.6,502.8 725.8,501.5 C729.0,500.2 730.9,499.2 733.8,498.6 C736.7,498.0 738.8,498.3 743.0,498.1 C747.2,497.9 756.6,497.6 759.3,497.5" fill="none" stroke="#000" stroke-width="1.3"/>
<g stroke="#000" stroke-width="2">
<line x1="113.60" y1="687" x2="113.60" y2="699.00"/>
<line x1="113.60" y1="42" x2="113.60" y2="54.00"/>
<line x1="122.82" y1="687" x2="122.82" y2="692.10"/>
<line x1="122.82" y1="42" x2="122.82" y2="47.10"/>
<line x1="132.04" y1="687" x2="132.04" y2="692.10"/>
<line x1="132.04" y1="42" x2="132.04" y2="47.10"/>
<line x1="141.26" y1="687" x2="141.26" y2="692.10"/>
<line x1="141.26" y1="42" x2="141.26" y2="47.10"/>
<line x1="150.49" y1="687" x2="150.49" y2="692.10"/>
<line x1="150.49" y1="42" x2="150.49" y2="47.10"/>
<line x1="159.71" y1="687" x2="159.71" y2="695.50"/>
<line x1="159.71" y1="42" x2="159.71" y2="50.50"/>
<line x1="168.93" y1="687" x2="168.93" y2="692.10"/>
<line x1="168.93" y1="42" x2="168.93" y2="47.10"/>
<line x1="178.15" y1="687" x2="178.15" y2="692.10"/>
<line x1="178.15" y1="42" x2="178.15" y2="47.10"/>
<line x1="187.37" y1="687" x2="187.37" y2="692.10"/>
<line x1="187.37" y1="42" x2="187.37" y2="47.10"/>
<line x1="196.59" y1="687" x2="196.59" y2="692.10"/>
<line x1="196.59" y1="42" x2="196.59" y2="47.10"/>
<line x1="205.81" y1="687" x2="205.81" y2="699.00"/>
<line x1="205.81" y1="42" x2="205.81" y2="54.00"/>
<line x1="215.04" y1="687" x2="215.04" y2="692.10"/>
<line x1="215.04" y1="42" x2="215.04" y2="47.10"/>
<line x1="224.26" y1="687" x2="224.26" y2="692.10"/>
<line x1="224.26" y1="42" x2="224.26" y2="47.10"/>
<line x1="233.48" y1="687" x2="233.48" y2="692.10"/>
<line x1="233.48" y1="42" x2="233.48" y2="47.10"/>
<line x1="242.70" y1="687" x2="242.70" y2="692.10"/>
<line x1="242.70" y1="42" x2="242.70" y2="47.10"/>
<line x1="251.92" y1="687" x2="251.92" y2="695.50"/>
<line x1="251.92" y1="42" x2="251.92" y2="50.50"/>
<line x1="261.14" y1="687" x2="261.14" y2="692.10"/>
<line x1="261.14" y1="42" x2="261.14" y2="47.10"/>
<line x1="270.36" y1="687" x2="270.36" y2="692.10"/>
<line x1="270.36" y1="42" x2="270.36" y2="47.10"/>
<line x1="279.59" y1="687" x2="279.59" y2="692.10"/>
<line x1="279.59" y1="42" x2="279.59" y2="47.10"/>
<line x1="288.81" y1="687" x2="288.81" y2="692.10"/>
<line x1="288.81" y1="42" x2="288.81" y2="47.10"/>
<line x1="298.03" y1="687" x2="298.03" y2="699.00"/>
<line x1="298.03" y1="42" x2="298.03" y2="54.00"/>
<line x1="307.25" y1="687" x2="307.25" y2="692.10"/>
<line x1="307.25" y1="42" x2="307.25" y2="47.10"/>
<line x1="316.47" y1="687" x2="316.47" y2="692.10"/>
<line x1="316.47" y1="42" x2="316.47" y2="47.10"/>
<line x1="325.69" y1="687" x2="325.69" y2="692.10"/>
<line x1="325.69" y1="42" x2="325.69" y2="47.10"/>
<line x1="334.91" y1="687" x2="334.91" y2="692.10"/>
<line x1="334.91" y1="42" x2="334.91" y2="47.10"/>
<line x1="344.14" y1="687" x2="344.14" y2="695.50"/>
<line x1="344.14" y1="42" x2="344.14" y2="50.50"/>
<line x1="353.36" y1="687" x2="353.36" y2="692.10"/>
<line x1="353.36" y1="42" x2="353.36" y2="47.10"/>
<line x1="362.58" y1="687" x2="362.58" y2="692.10"/>
<line x1="362.58" y1="42" x2="362.58" y2="47.10"/>
<line x1="371.80" y1="687" x2="371.80" y2="692.10"/>
<line x1="371.80" y1="42" x2="371.80" y2="47.10"/>
<line x1="381.02" y1="687" x2="381.02" y2="692.10"/>
<line x1="381.02" y1="42" x2="381.02" y2="47.10"/>
<line x1="390.24" y1="687" x2="390.24" y2="699.00"/>
<line x1="390.24" y1="42" x2="390.24" y2="54.00"/>
<line x1="399.46" y1="687" x2="399.46" y2="692.10"/>
<line x1="399.46" y1="42" x2="399.46" y2="47.10"/>
<line x1="408.69" y1="687" x2="408.69" y2="692.10"/>
<line x1="408.69" y1="42" x2="408.69" y2="47.10"/>
<line x1="417.91" y1="687" x2="417.91" y2="692.10"/>
<line x1="417.91" y1="42" x2="417.91" y2="47.10"/>
<line x1="427.13" y1="687" x2="427.13" y2="692.10"/>
<line x1="427.13" y1="42" x2="427.13" y2="47.10"/>
<line x1="436.35" y1="687" x2="436.35" y2="695.50"/>
<line x1="436.35" y1="42" x2="436.35" y2="50.50"/>
<line x1="445.57" y1="687" x2="445.57" y2="692.10"/>
<line x1="445.57" y1="42" x2="445.57" y2="47.10"/>
<line x1="454.79" y1="687" x2="454.79" y2="692.10"/>
<line x1="454.79" y1="42" x2="454.79" y2="47.10"/>
<line x1="464.01" y1="687" x2="464.01" y2="692.10"/>
<line x1="464.01" y1="42" x2="464.01" y2="47.10"/>
<line x1="473.24" y1="687" x2="473.24" y2="692.10"/>
<line x1="473.24" y1="42" x2="473.24" y2="47.10"/>
<line x1="482.46" y1="687" x2="482.46" y2="699.00"/>
<line x1="482.46" y1="42" x2="482.46" y2="54.00"/>
<line x1="491.68" y1="687" x2="491.68" y2="692.10"/>
<line x1="491.68" y1="42" x2="491.68" y2="47.10"/>
<line x1="500.90" y1="687" x2="500.90" y2="692.10"/>
<line x1="500.90" y1="42" x2="500.90" y2="47.10"/>
<line x1="510.12" y1="687" x2="510.12" y2="692.10"/>
<line x1="510.12" y1="42" x2="510.12" y2="47.10"/>
<line x1="519.34" y1="687" x2="519.34" y2="692.10"/>
<line x1="519.34" y1="42" x2="519.34" y2="47.10"/>
<line x1="528.56" y1="687" x2="528.56" y2="695.50"/>
<line x1="528.56" y1="42" x2="528.56" y2="50.50"/>
<line x1="537.79" y1="687" x2="537.79" y2="692.10"/>
<line x1="537.79" y1="42" x2="537.79" y2="47.10"/>
<line x1="547.01" y1="687" x2="547.01" y2="692.10"/>
<line x1="547.01" y1="42" x2="547.01" y2="47.10"/>
<line x1="556.23" y1="687" x2="556.23" y2="692.10"/>
<line x1="556.23" y1="42" x2="556.23" y2="47.10"/>
<line x1="565.45" y1="687" x2="565.45" y2="692.10"/>
<line x1="565.45" y1="42" x2="565.45" y2="47.10"/>
<line x1="574.67" y1="687" x2="574.67" y2="699.00"/>
<line x1="574.67" y1="42" x2="574.67" y2="54.00"/>
<line x1="583.89" y1="687" x2="583.89" y2="692.10"/>
<line x1="583.89" y1="42" x2="583.89" y2="47.10"/>
<line x1="593.11" y1="687" x2="593.11" y2="692.10"/>
<line x1="593.11" y1="42" x2="593.11" y2="47.10"/>
<line x1="602.34" y1="687" x2="602.34" y2="692.10"/>
<line x1="602.34" y1="42" x2="602.34" y2="47.10"/>
<line x1="611.56" y1="687" x2="611.56" y2="692.10"/>
<line x1="611.56" y1="42" x2="611.56" y2="47.10"/>
<line x1="620.78" y1="687" x2="620.78" y2="695.50"/>
<line x1="620.78" y1="42" x2="620.78" y2="50.50"/>
<line x1="630.00" y1="687" x2="630.00" y2="692.10"/>
<line x1="630.00" y1="42" x2="630.00" y2="47.10"/>
<line x1="639.22" y1="687" x2="639.22" y2="692.10"/>
<line x1="639.22" y1="42" x2="639.22" y2="47.10"/>
<line x1="648.44" y1="687" x2="648.44" y2="692.10"/>
<line x1="648.44" y1="42" x2="648.44" y2="47.10"/>
<line x1="657.66" y1="687" x2="657.66" y2="692.10"/>
<line x1="657.66" y1="42" x2="657.66" y2="47.10"/>
<line x1="666.89" y1="687" x2="666.89" y2="699.00"/>
<line x1="666.89" y1="42" x2="666.89" y2="54.00"/>
<line x1="676.11" y1="687" x2="676.11" y2="692.10"/>
<line x1="676.11" y1="42" x2="676.11" y2="47.10"/>
<line x1="685.33" y1="687" x2="685.33" y2="692.10"/>
<line x1="685.33" y1="42" x2="685.33" y2="47.10"/>
<line x1="694.55" y1="687" x2="694.55" y2="692.10"/>
<line x1="694.55" y1="42" x2="694.55" y2="47.10"/>
<line x1="703.77" y1="687" x2="703.77" y2="692.10"/>
<line x1="703.77" y1="42" x2="703.77" y2="47.10"/>
<line x1="712.99" y1="687" x2="712.99" y2="695.50"/>
<line x1="712.99" y1="42" x2="712.99" y2="50.50"/>
<line x1="722.21" y1="687" x2="722.21" y2="692.10"/>
<line x1="722.21" y1="42" x2="722.21" y2="47.10"/>
<line x1="731.44" y1="687" x2="731.44" y2="692.10"/>
<line x1="731.44" y1="42" x2="731.44" y2="47.10"/>
<line x1="740.66" y1="687" x2="740.66" y2="692.10"/>
<line x1="740.66" y1="42" x2="740.66" y2="47.10"/>
<line x1="749.88" y1="687" x2="749.88" y2="692.10"/>
<line x1="749.88" y1="42" x2="749.88" y2="47.10"/>
<line x1="759.10" y1="687" x2="759.10" y2="699.00"/>
<line x1="759.10" y1="42" x2="759.10" y2="54.00"/>
<line x1="108.70" y1="687.10" x2="113.8" y2="687.10"/>
<line x1="754.40" y1="687.10" x2="759.5" y2="687.10"/>
<line x1="108.70" y1="653.08" x2="113.8" y2="653.08"/>
<line x1="754.40" y1="653.08" x2="759.5" y2="653.08"/>
<line x1="108.70" y1="619.05" x2="113.8" y2="619.05"/>
<line x1="754.40" y1="619.05" x2="759.5" y2="619.05"/>
<line x1="108.70" y1="585.02" x2="113.8" y2="585.02"/>
<line x1="754.40" y1="585.02" x2="759.5" y2="585.02"/>
<line x1="105.30" y1="551.00" x2="113.8" y2="551.00"/>
<line x1="751.00" y1="551.00" x2="759.5" y2="551.00"/>
<line x1="108.70" y1="516.98" x2="113.8" y2="516.98"/>
<line x1="754.40" y1="516.98" x2="759.5" y2="516.98"/>
<line x1="108.70" y1="482.96" x2="113.8" y2="482.96"/>
<line x1="754.40" y1="482.96" x2="759.5" y2="482.96"/>
<line x1="108.70" y1="448.94" x2="113.8" y2="448.94"/>
<line x1="754.40" y1="448.94" x2="759.5" y2="448.94"/>
<line x1="108.70" y1="414.92" x2="113.8" y2="414.92"/>
<line x1="754.40" y1="414.92" x2="759.5" y2="414.92"/>
<line x1="101.80" y1="380.90" x2="113.8" y2="380.90"/>
<line x1="747.50" y1="380.90" x2="759.5" y2="380.90"/>
<line x1="108.70" y1="347.32" x2="113.8" y2="347.32"/>
<line x1="754.40" y1="347.32" x2="759.5" y2="347.32"/>
<line x1="108.70" y1="313.74" x2="113.8" y2="313.74"/>
<line x1="754.40" y1="313.74" x2="759.5" y2="313.74"/>
<line x1="108.70" y1="280.16" x2="113.8" y2="280.16"/>
<line x1="754.40" y1="280.16" x2="759.5" y2="280.16"/>
<line x1="108.70" y1="246.58" x2="113.8" y2="246.58"/>
<line x1="754.40" y1="246.58" x2="759.5" y2="246.58"/>
<line x1="105.30" y1="213.00" x2="113.8" y2="213.00"/>
<line x1="751.00" y1="213.00" x2="759.5" y2="213.00"/>
<line x1="108.70" y1="179.06" x2="113.8" y2="179.06"/>
<line x1="754.40" y1="179.06" x2="759.5" y2="179.06"/>
<line x1="108.70" y1="145.12" x2="113.8" y2="145.12"/>
<line x1="754.40" y1="145.12" x2="759.5" y2="145.12"/>
<line x1="108.70" y1="111.18" x2="113.8" y2="111.18"/>
<line x1="754.40" y1="111.18" x2="759.5" y2="111.18"/>
<line x1="108.70" y1="77.24" x2="113.8" y2="77.24"/>
<line x1="754.40" y1="77.24" x2="759.5" y2="77.24"/>
<line x1="101.80" y1="43.30" x2="113.8" y2="43.30"/>
<line x1="747.50" y1="43.30" x2="759.5" y2="43.30"/>
</g>
<rect x="113.8" y="41.75" width="645.7" height="645.1" fill="none" stroke="#000" stroke-width="3.2"/>
<line x1="113.8" y1="38.5" x2="113.8" y2="43" stroke="#000" stroke-width="3.2"/>
<g fill="#E0141E" stroke="#E0141E" stroke-width="0.35" font-size="23.2" text-anchor="middle">
<text x="244.3" y="594.8">122</text>
<text x="340.8" y="560.5">123</text>
<text x="489.9" y="499.7">124</text>
<text x="601.7" y="397.8">125</text>
<text x="735.8" y="244.6">126</text>
</g>
<g fill="#000" stroke="#000" stroke-width="0.3" font-size="23.2" text-anchor="middle">
<text x="425" y="540.6">40</text>
<text x="658.25" y="342.1">45</text>
</g>
<g fill="#000" font-size="25.5" text-anchor="end">
<text x="97" y="51.3">2000</text>
<text x="97" y="389">1000</text>
<text x="97" y="695">100</text>
</g>
<g fill="#000" font-size="25.5" text-anchor="middle">
<text x="113.6" y="726">1000</text>
<text x="205.8" y="726">2000</text>
<text x="298.0" y="726">3000</text>
<text x="390.2" y="726">4000</text>
<text x="482.5" y="726">5000</text>
<text x="574.7" y="726">6000</text>
<text x="666.9" y="726">7000</text>
<text x="759.1" y="726">8000</text>
</g>
<text x="379" y="770" font-size="29">m<tspan font-size="21" dy="6.5">1/2</tspan><tspan dy="-6.5"> (GeV)</tspan></text>
<text transform="translate(24,298.5) rotate(-90)" font-size="29">m<tspan font-size="21" dy="7.5">0</tspan><tspan dy="-7.5"> (GeV)</tspan></text>
<text x="508.5" y="22.2" font-size="28.6">A<tspan font-size="23.5" dy="8">0</tspan><tspan dy="-8"> = -3.5 m</tspan><tspan font-size="24" dy="8">0</tspan><tspan dy="-8">, </tspan><tspan font-style="italic">&#956;</tspan> &gt; 0</text>
</svg>
</body></html>
